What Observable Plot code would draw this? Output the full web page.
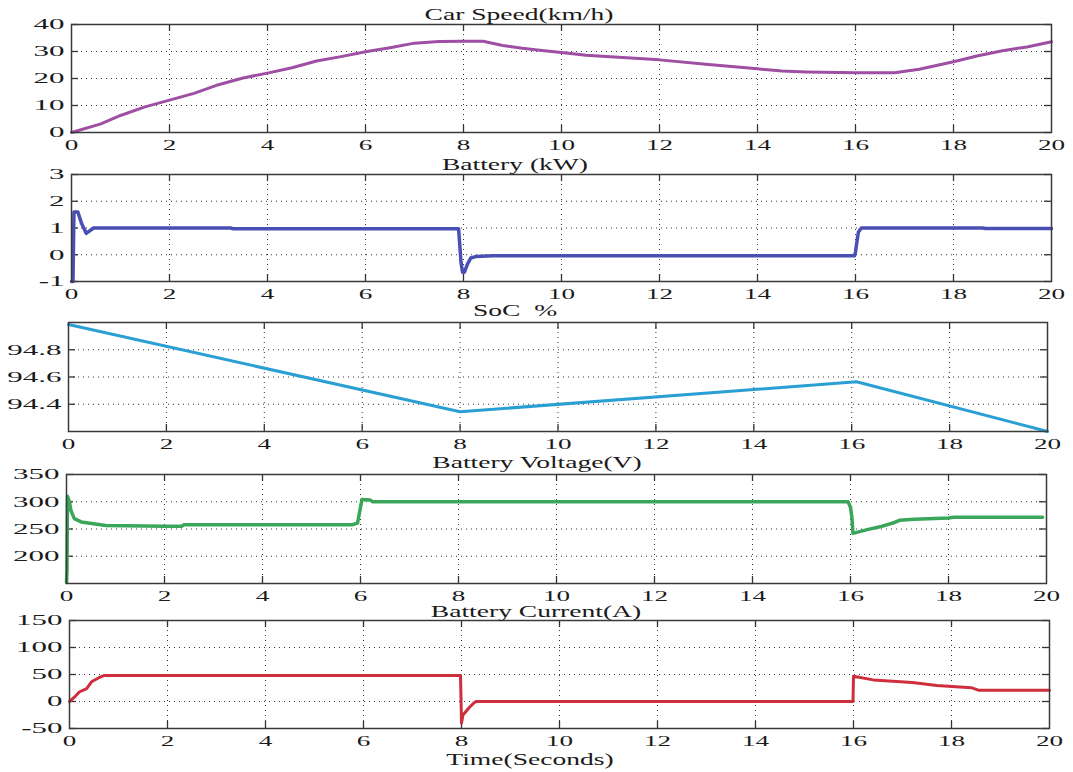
<!DOCTYPE html>
<html>
<head>
<meta charset="utf-8">
<script src="https://cdn.jsdelivr.net/npm/d3@7"></script>
<script src="https://cdn.jsdelivr.net/npm/@observablehq/plot@0.6"></script>
<style>
  body { margin: 0; background: #fff; }
  #chart { position: relative; width: 1073px; height: 772px; overflow: hidden; background: #fff;
           font-family: "Liberation Serif", "Times New Roman", serif; }
  .panel { position: absolute; left: 0; }
  .panel text { font-family: "Liberation Serif", "Times New Roman", serif !important; }
  .title { position: absolute; white-space: pre; font-size: 17px; line-height: 17px; color: #1a1a1a;
           transform-origin: 50% 50%; }
</style>
</head>
<body>
<div id="chart"></div>
<script>
// ---------- shared x axis ----------
const timeTicks = [0, 2, 4, 6, 8, 10, 12, 14, 16, 18, 20];

// ---------- Car Speed (km/h) ----------
const speedTicks = [0, 10, 20, 30, 40];
const speedTime = [0, 0.6, 1, 1.5, 2, 2.5, 3, 3.5, 4, 4.5, 5, 5.5, 6, 6.5, 7, 7.5, 8, 8.4, 8.8, 9.2, 9.6,
                   10, 10.5, 11, 12, 13, 14, 14.5, 15, 16, 16.8, 17.3, 18, 18.5, 19, 19.5, 20];
const speedKmh = [0, 3.2, 6.3, 9.5, 12, 14.5, 17.7, 20.2, 22, 24, 26.5, 28.1, 29.9, 31.4, 33.1, 33.7, 33.8, 33.8, 32.2, 31.2, 30.4,
                  29.6, 28.6, 28.1, 26.9, 25.2, 23.6, 22.75, 22.4, 22.1, 22.1, 23.4, 26.2, 28.4, 30.3, 31.7, 33.6];

// ---------- Battery (kW) ----------
const batteryTicks = [-1, 0, 1, 2, 3];
const batteryTime = [0, 0.03, 0.05, 0.13, 0.2, 0.3, 0.45, 3.25, 3.3, 7.9, 7.95, 7.98, 8.02, 8.08, 8.15, 8.25, 8.6,
                     15.98, 16.0, 16.03, 16.06, 16.12, 18.6, 18.65, 20];
const batteryKw = [-1, -1, 1.6, 1.6, 1.2, 0.8, 1.0, 1.0, 0.97, 0.97, -0.3, -0.65, -0.65, -0.35, -0.12, -0.07, -0.04,
                   -0.04, 0.1, 0.5, 0.85, 1.0, 1.0, 0.98, 0.98];

// ---------- SoC % ----------
const socTicks = [94.4, 94.6, 94.8];
const socTime = [0, 8, 16.1, 20];
const socPct = [94.985, 94.345, 94.565, 94.2];

// ---------- Battery Voltage (V) ----------
const voltageTicks = [200, 250, 300, 350];
const voltageTime = [0, 0.01, 0.02, 0.06, 0.09, 0.16, 0.3, 0.8, 2.0, 2.35, 2.4, 5.84, 5.94, 6.0, 6.03, 6.2, 6.25,
                     15.95, 16.0, 16.03, 16.05, 16.3, 16.6, 16.9, 17.0, 17.3, 18.0, 18.1, 19.92];
const voltageV = [152, 175, 310, 300, 284, 269, 263, 256.5, 255, 255, 258, 258, 261, 290, 304, 303, 300,
                  300, 290, 270, 242, 248, 254, 262, 266, 268, 270, 271.5, 271.5];

// ---------- Battery Current (A) ----------
const currentTicks = [-50, 0, 50, 100, 150];
const currentTime = [0, 0.1, 0.2, 0.35, 0.45, 0.6, 0.7, 7.98, 8.0, 8.03, 8.15, 8.25, 8.3,
                     15.99, 16.0, 16.4, 17.2, 17.7, 18.4, 18.55, 20];
const currentA = [0, 8, 17.6, 24, 36.5, 44, 48, 48, -40, -25, -12, -3, 0,
                  0, 46.8, 40, 35, 29.5, 25.6, 21, 21];

const xLabel = "Time(Seconds)";

// ---------- layout ----------
const W = 1073;
const FONT = '"Liberation Serif", "Times New Roman", serif';
const panels = [
  {title: "Car Speed(km/h)", tc: 519, tb: 20.5, top: 24, bottom: 132, left: 71, right: 1051,
   domain: [0, 40], ticks: speedTicks, fmt: d => String(d), t: speedTime, v: speedKmh, color: "#9e4fa3", sw: 3},
  {title: "Battery (kW)", tc: 515, tb: 170, top: 174, bottom: 281, left: 71, right: 1051,
   domain: [-1, 3], ticks: batteryTicks, fmt: d => String(d), t: batteryTime, v: batteryKw, color: "#4a4fb3", sw: 3.5},
  {title: "SoC  %", tc: 515, tb: 316, top: 322, bottom: 431, left: 68, right: 1047,
   domain: [94.2, 95.0], ticks: socTicks, fmt: d => d.toFixed(1), t: socTime, v: socPct, color: "#2a9fd4", sw: 3},
  {title: "Battery Voltage(V)", tc: 537, tb: 468.5, top: 474, bottom: 583, left: 66, right: 1046,
   domain: [150, 350], ticks: voltageTicks, fmt: d => String(d), t: voltageTime, v: voltageV, color: "#3aa65a", sw: 3.5},
  {title: "Battery Current(A)", tc: 536, tb: 617.5, top: 620, bottom: 728, left: 69, right: 1049,
   domain: [-50, 150], ticks: currentTicks, fmt: d => String(d), t: currentTime, v: currentA, color: "#cf2e3c", sw: 3}
];

const chart = document.getElementById("chart");
const MT = 12, MB = 34;
const TICK_FS = 15.5, X_STRETCH = 1.75, Y_STRETCH = 2.0, TITLE_STRETCH = 1.62;
const ctx = document.createElement("canvas").getContext("2d");
ctx.font = `${TICK_FS}px "Liberation Serif"`;

function addTitle(text, center, baseline) {
  const d = document.createElement("div");
  d.className = "title";
  d.textContent = text;
  d.style.left = center + "px";
  d.style.top = (baseline - 14.2) + "px";
  d.style.transform = `translateX(-50%) scaleX(${TITLE_STRETCH})`;
  chart.appendChild(d);
}

function stretch(nodes, factor) {
  nodes.forEach(t => {
    t.setAttribute("font-family", FONT);
    t.setAttribute("font-size", TICK_FS);
    const len = ctx.measureText(t.textContent).width;
    if (len > 0) {
      t.setAttribute("textLength", (len * factor).toFixed(2));
      t.setAttribute("lengthAdjust", "spacingAndGlyphs");
    }
  });
}

for (const p of panels) {
  const h = p.bottom - p.top;
  const pw = p.right - p.left;
  const data = p.t.map((t, i) => ({t, v: p.v[i]}));
  const innerX = timeTicks.filter(d => d > 0 && d < 20);
  const svg = Plot.plot({
    width: W,
    height: h + MT + MB,
    marginTop: MT, marginBottom: MB, marginLeft: p.left, marginRight: W - p.right,
    style: {fontFamily: FONT, fontSize: TICK_FS + "px", color: "#1a1a1a",
            background: "transparent", overflow: "visible"},
    x: {domain: [0, 20], ticks: timeTicks, tickSize: 0, tickPadding: 6, label: null, tickFormat: d => String(d)},
    y: {domain: p.domain, ticks: p.ticks, tickSize: 0, tickPadding: 7, label: null, tickFormat: p.fmt},
    marks: [
      Plot.gridX(innerX, {stroke: "#000", strokeOpacity: 0.8, strokeDasharray: "1,4"}),
      Plot.gridY(p.ticks, {stroke: "#000", strokeOpacity: 0.8, strokeDasharray: "1,4"}),
      Plot.tickX(innerX, {x: d => d, insetBottom: h - 7, stroke: "#333", strokeWidth: 1.3}),
      Plot.tickX(innerX, {x: d => d, insetTop: h - 7, stroke: "#333", strokeWidth: 1.3}),
      Plot.tickY(p.ticks, {y: d => d, insetRight: pw - 7, stroke: "#333", strokeWidth: 1.3}),
      Plot.tickY(p.ticks, {y: d => d, insetLeft: pw - 7, stroke: "#333", strokeWidth: 1.3}),
      Plot.line(data, {x: "t", y: "v", stroke: p.color, strokeWidth: p.sw, strokeLinejoin: "round"}),
      Plot.frame({stroke: "#3a3a3a", strokeWidth: 1.5})
    ]
  });
  svg.classList.add("panel");
  svg.style.top = (p.top - MT) + "px";
  svg.style.fontFamily = FONT;
  chart.appendChild(svg);
  // horizontally stretch tick labels to mimic the wide lettering of the original
  stretch(svg.querySelectorAll('g[aria-label="x-axis tick label"] text'), X_STRETCH);
  stretch(svg.querySelectorAll('g[aria-label="y-axis tick label"] text'), Y_STRETCH);
  addTitle(p.title, p.tc, p.tb);
}
addTitle(xLabel, 530, 765.5);
</script>
</body>
</html>
